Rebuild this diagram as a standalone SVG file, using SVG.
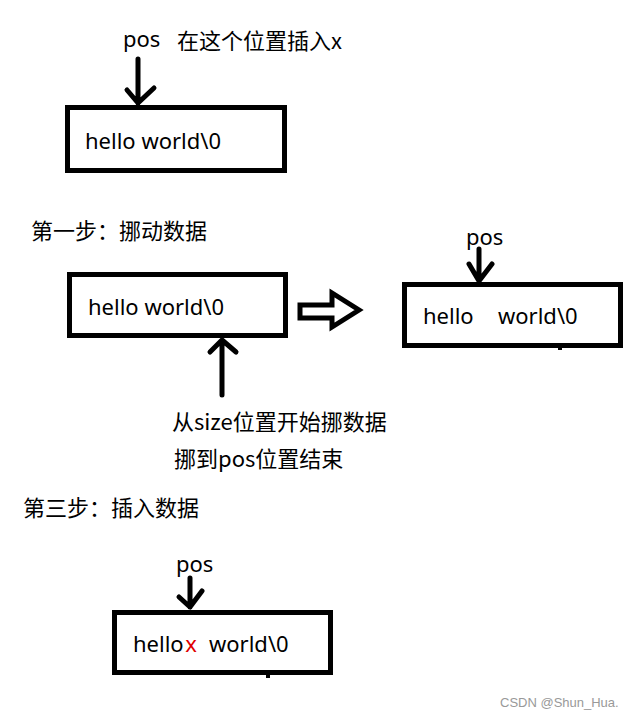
<svg xmlns="http://www.w3.org/2000/svg" width="640" height="717" viewBox="0 0 640 717">
<style>
.box{fill:#fff;stroke:#000;stroke-width:5}
.t{font-family:"Noto Sans","Noto Sans CJK SC",sans-serif;font-size:22px;fill:#000}
.c{font-family:"Noto Sans CJK SC","Noto Sans",sans-serif;font-size:22px;fill:#000}
.ln{fill:none;stroke:#000;stroke-width:5;stroke-linecap:round;stroke-linejoin:round}
</style>
<rect width="640" height="717" fill="#fff"/>
<g id="box1">
<rect class="box" x="67.5" y="107.5" width="217" height="63"/>
<text class="t" x="85" y="149">hello world\0</text>
</g>
<g id="label-pos1">
<text class="t" x="123" y="47">pos</text>
<text class="c" x="177" y="49">在这个位置插入x</text>
</g>
<g id="step1">
<text class="c" x="31" y="239">第一步：挪动数据</text>
</g>
<g id="box2">
<rect class="box" x="69.5" y="274.5" width="216" height="61"/>
<text class="t" x="88" y="315">hello world\0</text>
</g>
<g id="box3">
<rect class="box" x="404.5" y="284.5" width="216" height="61"/>
<text class="t" x="423" y="324">hello</text>
<text class="t" x="498" y="324">world\0</text>
<line x1="560" y1="346" x2="560" y2="350" stroke="#000" stroke-width="4"/>
</g>
<g id="label-pos2">
<text class="t" x="466" y="245">pos</text>
</g>
<g id="note">
<text class="c" x="172" y="430">从size位置开始挪数据</text>
<text class="c" x="174" y="467">挪到pos位置结束</text>
</g>
<g id="step3">
<text class="c" x="23" y="516">第三步：插入数据</text>
</g>
<g id="label-pos3">
<text class="t" x="176" y="572">pos</text>
</g>
<g id="box4">
<rect class="box" x="114.5" y="612.5" width="216" height="60"/>
<text class="t" x="133" y="652">hello<tspan fill="#e00000" dx="2">x</tspan></text>
<text class="t" x="209" y="652">world\0</text>
<line x1="268" y1="673" x2="268" y2="678" stroke="#000" stroke-width="4"/>
</g>
<g id="connectors">
<path class="ln" d="M138 59 V103 M127 90 L138 103 L154 88"/>
<path class="ln" d="M479 249 V281 M469 264 L479 281 L492 264"/>
<path class="ln" d="M190 578 V607 M179 597 L190 607 L202 591"/>
<path class="ln" d="M222 395 V341 M210 352 L222 340 L236 352"/>
<path fill="#fff" stroke="#000" stroke-width="5" stroke-linejoin="miter" d="M300 305 H332 V293 L359 310 L332 327 V318 H300 Z"/>
</g>
<text x="500" y="707" font-family="'Liberation Sans',sans-serif" font-size="13" fill="#999">CSDN @Shun_Hua.</text>
</svg>
